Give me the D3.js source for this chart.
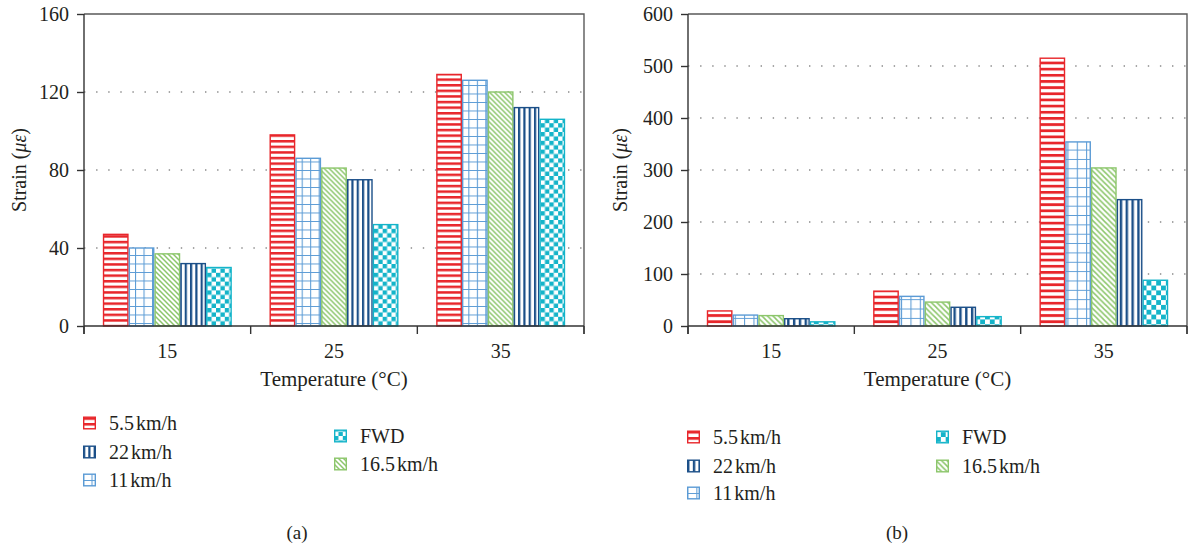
<!DOCTYPE html>
<html>
<head>
<meta charset="utf-8">
<script src="https://cdn.jsdelivr.net/npm/d3@7"></script>
<style>
  body { margin: 0; background: #fff; }
  svg { display: block; font-family: "Liberation Serif", "DejaVu Serif", serif; }
</style>
</head>
<body>
<svg id="chart" width="1188" height="548"></svg>
<script>
// categories and series
var categories = ["15", "25", "35"];
var seriesKeys = ["s55", "s11", "s165", "s22", "fwd"];

// panel (a) strain values, by temperature
var a55 = [47, 98, 129];
var a11 = [40, 86, 126];
var a165 = [37, 81, 120];
var a22 = [32, 75, 112];
var aFWD = [30, 52, 106];

// panel (b) strain values, by temperature
var b55 = [29, 67, 515];
var b11 = [21, 57, 354];
var b165 = [20, 46, 304];
var b22 = [14, 36, 243];
var bFWD = [8, 18, 88];

var ticksA = [0, 40, 80, 120, 160];
var ticksB = [0, 100, 200, 300, 400, 500, 600];

// legend labels: number, unit
var legendNum = { s55: "5.5", s11: "11", s165: "16.5", s22: "22", fwd: "FWD" };
var legendUnit = { s55: "km/h", s11: "km/h", s165: "km/h", s22: "km/h", fwd: "" };

var colors = {
    s55: "#e8262b",
    s11: "#5b9bd5",
    s165: "#8cc66b",
    s22: "#1b4f88",
    fwd: "#14b4c9"
};

var svg = d3.select("#chart");
var defs = svg.append("defs");

// fill patterns, one set per panel (scale differs a little)
function makePatterns(id, k) {
    var p;
    // horizontal red stripes
    p = defs.append("pattern").attr("id", id + "-s55")
        .attr("patternUnits", "userSpaceOnUse").attr("width", 10).attr("height", 5.6 * k);
    p.append("rect").attr("width", 10).attr("height", 5.6 * k).attr("fill", "#fff");
    p.append("rect").attr("y", 0).attr("width", 10).attr("height", 2.5 * k).attr("fill", colors.s55);

    // light blue grid
    p = defs.append("pattern").attr("id", id + "-s11")
        .attr("patternUnits", "userSpaceOnUse").attr("width", 8.5 * k).attr("height", 8.5 * k);
    p.append("rect").attr("width", 8.5 * k).attr("height", 8.5 * k).attr("fill", "#fff");
    p.append("path").attr("d", "M0,0.5H" + (8.5 * k) + "M0.5,0V" + (8.5 * k))
        .attr("stroke", colors.s11).attr("stroke-width", 1.1).attr("fill", "none");

    // green diagonal "\"
    var t = 5 * k;
    p = defs.append("pattern").attr("id", id + "-s165")
        .attr("patternUnits", "userSpaceOnUse").attr("width", t).attr("height", t);
    p.append("rect").attr("width", t).attr("height", t).attr("fill", "#fff");
    p.append("path")
        .attr("d", "M-1,-1L" + (t + 1) + "," + (t + 1) + "M" + (-1) + "," + (t - 1) + "L1," + (t + 1) +
            "M" + (t - 1) + ",-1L" + (t + 1) + ",1")
        .attr("stroke", colors.s165).attr("stroke-width", 1.5).attr("fill", "none");

    // dark blue vertical stripes
    p = defs.append("pattern").attr("id", id + "-s22")
        .attr("patternUnits", "userSpaceOnUse").attr("width", 5.3 * k).attr("height", 10);
    p.append("rect").attr("width", 5.3 * k).attr("height", 10).attr("fill", "#fff");
    p.append("rect").attr("x", 0).attr("width", 2.2 * k).attr("height", 10).attr("fill", colors.s22);

    // cyan checkerboard
    var c = 4.4 * k;
    p = defs.append("pattern").attr("id", id + "-fwd")
        .attr("patternUnits", "userSpaceOnUse").attr("width", 2 * c).attr("height", 2 * c);
    p.append("rect").attr("width", 2 * c).attr("height", 2 * c).attr("fill", "#fff");
    p.append("rect").attr("width", c).attr("height", c).attr("fill", colors.fwd);
    p.append("rect").attr("x", c).attr("y", c).attr("width", c).attr("height", c).attr("fill", colors.fwd);
}
makePatterns("pa", 1);
makePatterns("pb", 1.1);

var textColor = "#231f20";

function drawPanel(cfg) {
    var g = svg.append("g");
    var top = 14, bottom = 326;

    var y = d3.scaleLinear().domain([0, cfg.max]).range([bottom, top]);
    var x0 = d3.scaleBand().domain(categories).range([cfg.left, cfg.right]);
    var x1 = d3.scaleBand().domain(seriesKeys).range([0, x0.bandwidth()]).paddingOuter(0.73);

    // dotted grid
    g.append("g").selectAll("line")
        .data(cfg.ticks.filter(function (d) { return d > 0 && d < cfg.max; }))
        .join("line")
        .attr("x1", cfg.left).attr("x2", cfg.right)
        .attr("y1", function (d) { return y(d); }).attr("y2", function (d) { return y(d); })
        .attr("stroke", "#8a8a8a").attr("stroke-width", 1.4)
        .attr("stroke-dasharray", "1.4,10.7");

    // frame top + right
    g.append("path")
        .attr("d", "M" + cfg.left + "," + top + "H" + cfg.right + "V" + (bottom + 8))
        .attr("fill", "none").attr("stroke", "#5a5a5a").attr("stroke-width", 1.4);

    // bars
    var groups = g.append("g").selectAll("g")
        .data(categories)
        .join("g")
        .attr("transform", function (d) { return "translate(" + x0(d) + ",0)"; });

    groups.selectAll("rect")
        .data(function (d, i) {
            return seriesKeys.map(function (k) { return { key: k, value: cfg.data[k][i] }; });
        })
        .join("rect")
        .attr("x", function (d) { return x1(d.key) + 0.7; })
        .attr("width", x1.bandwidth() - 1.4)
        .attr("y", function (d) { return y(d.value); })
        .attr("height", function (d) { return bottom - y(d.value); })
        .attr("fill", function (d) { return "url(#" + cfg.pid + "-" + d.key + ")"; })
        .attr("stroke", function (d) { return colors[d.key]; })
        .attr("stroke-width", 1.4);

    // y axis
    var yAxis = d3.axisLeft(y).tickValues(cfg.ticks).tickSize(7).tickPadding(8);
    var ya = g.append("g").attr("transform", "translate(" + cfg.left + ",0)").call(yAxis);
    ya.select(".domain").attr("d", "M0," + top + "V" + (bottom + 8)).attr("stroke", "#333").attr("stroke-width", 1.4);
    ya.selectAll(".tick line").attr("stroke", "#333").attr("stroke-width", 1.4);
    ya.selectAll(".tick text").attr("font-size", 20).attr("fill", textColor)
        .attr("font-family", "Liberation Serif");

    // x axis: ticks at category boundaries
    g.append("line").attr("x1", cfg.left).attr("x2", cfg.right)
        .attr("y1", bottom).attr("y2", bottom)
        .attr("stroke", "#333").attr("stroke-width", 1.4);
    var bounds = categories.map(function (d) { return x0(d); }).concat([cfg.right]);
    g.append("g").selectAll("line").data(bounds).join("line")
        .attr("x1", function (d) { return d; }).attr("x2", function (d) { return d; })
        .attr("y1", bottom).attr("y2", bottom + 8)
        .attr("stroke", "#333").attr("stroke-width", 1.4);
    g.append("g").selectAll("text").data(categories).join("text")
        .attr("x", function (d) { return x0(d) + x0.bandwidth() / 2; })
        .attr("y", 358)
        .attr("text-anchor", "middle").attr("font-size", 20).attr("fill", textColor)
        .text(function (d) { return d; });

    // axis titles
    g.append("text")
        .attr("x", (cfg.left + cfg.right) / 2).attr("y", 386)
        .attr("text-anchor", "middle").attr("font-size", 21).attr("fill", textColor)
        .text("Temperature (\u00b0C)");

    var yt = g.append("text")
        .attr("transform", "translate(" + cfg.ylabelX + "," + ((top + bottom) / 2) + ") rotate(-90)")
        .attr("text-anchor", "middle").attr("font-size", 20).attr("fill", textColor);
    yt.append("tspan").text("Strain (");
    yt.append("tspan").attr("font-style", "italic").text("\u03bc\u03b5");
    yt.append("tspan").text(")");

    // legend
    var leg = g.append("g").selectAll("g").data(cfg.legend).join("g")
        .attr("transform", function (d) { return "translate(" + d.x + "," + d.y + ")"; });
    leg.append("rect")
        .attr("x", 0.7).attr("y", -5.8).attr("width", 11.6).attr("height", 11.6)
        .attr("fill", function (d) { return "url(#" + cfg.pid + "-" + d.key + ")"; })
        .attr("stroke", function (d) { return colors[d.key]; })
        .attr("stroke-width", 1.4);
    var lt = leg.append("text")
        .attr("x", 26).attr("y", 7)
        .attr("font-size", 20).attr("fill", textColor);
    lt.append("tspan").text(function (d) { return legendNum[d.key]; });
    lt.append("tspan").attr("dx", 2).text(function (d) { return legendUnit[d.key]; });

    // caption
    g.append("text")
        .attr("x", cfg.captionX).attr("y", 539)
        .attr("text-anchor", "middle").attr("font-size", 19).attr("fill", textColor)
        .text(cfg.caption);
}

drawPanel({
    pid: "pa",
    left: 84, right: 584, max: 160, ticks: ticksA, ylabelX: 26,
    data: { s55: a55, s11: a11, s165: a165, s22: a22, fwd: aFWD },
    legend: [
        { key: "s55", x: 83, y: 423 },
        { key: "s22", x: 83, y: 452 },
        { key: "s11", x: 83, y: 480 },
        { key: "fwd", x: 334, y: 436 },
        { key: "s165", x: 334, y: 464 }
    ],
    caption: "(a)", captionX: 297
});

drawPanel({
    pid: "pb",
    left: 688, right: 1187, max: 600, ticks: ticksB, ylabelX: 627,
    data: { s55: b55, s11: b11, s165: b165, s22: b22, fwd: bFWD },
    legend: [
        { key: "s55", x: 687, y: 437 },
        { key: "s22", x: 687, y: 466 },
        { key: "s11", x: 687, y: 493 },
        { key: "fwd", x: 936, y: 437 },
        { key: "s165", x: 936, y: 466 }
    ],
    caption: "(b)", captionX: 897
});
</script>
</body>
</html>
